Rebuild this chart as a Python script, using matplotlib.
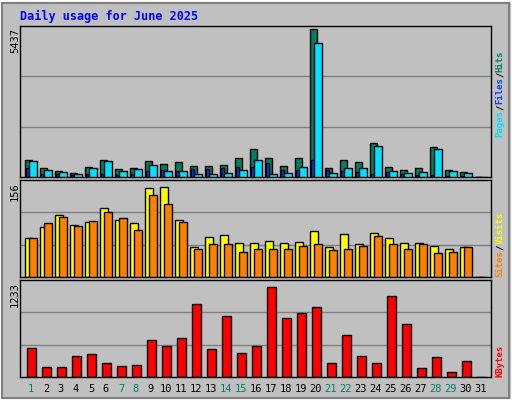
import matplotlib
matplotlib.use("Agg")
import matplotlib.pyplot as plt
from matplotlib.patches import Rectangle

days = list(range(1, 32))
hits = [637,343,233,159,380,637,306,343,600,490,563,417,417,453,710,1041,710,417,710,5437,343,637,563,1262,380,270,343,1115,270,196,0]
files = [343,122,122,86,122,122,86,122,233,270,233,306,306,343,380,380,527,270,270,637,270,233,196,122,196,122,86,86,37,37,0]
pages = [600,270,196,122,343,600,233,306,453,233,233,122,122,159,270,637,122,159,380,4922,159,343,343,1156,233,159,196,1041,233,159,0]
visits = [65,83,103,86,91,115,95,89,147,149,95,50,66,70,57,57,60,57,58,76,49,71,54,73,65,57,57,52,46,49,0]
sites = [65,89,100,84,92,107,98,78,136,121,91,46,55,55,41,46,46,46,52,55,44,47,52,68,55,47,55,39,41,49,0]
kbytes = [381,127,127,280,305,178,140,153,483,407,508,953,368,801,318,407,1182,775,839,915,178,547,280,178,1055,699,114,267,64,203,0]
weekends = [1,7,8,14,15,21,22,28,29]
title = "Daily usage for June 2025"

W, H = 512, 400
fig = plt.figure(figsize=(W/100, H/100), dpi=100)
fig.patch.set_facecolor("#C0C0C0")
fig.add_artist(Rectangle((0, 0), 1, 1, transform=fig.transFigure, fill=False, ec="white", lw=2))
fig.add_artist(Rectangle((2/W, 2/H), 1-5/W, 1-5/H, transform=fig.transFigure, fill=False, ec="#808080", lw=1.5))
mono = "DejaVu Sans Mono"

def fx(p): return p / W
def fy(p): return 1 - p / H

left, right = 20, 491
panels = [(26, 177), (180, 277), (280, 377)]
axes = []
for top, bot in panels:
    ax = fig.add_axes([fx(left), fy(bot), fx(right - left), (bot - top) / H])
    ax.set_facecolor("#C0C0C0")
    ax.set_xlim(-0.33, 31.07)
    ax.set_xticks([])
    ax.set_yticks([])
    for s in ax.spines.values():
        s.set_color("black"); s.set_linewidth(1)
    axes.append(ax)

ec = dict(edgecolor="black", linewidth=1)
x = [d - 1 for d in days]
a1, a2, a3 = axes
a1.set_ylim(0, max(hits) * 1.02)
for g in (1/3, 2/3):
    a1.axhline(max(hits) * g * 1.02, color="#808080", lw=1, zorder=0)
a1.bar(x, hits, width=0.47, align="edge", color="#008060", **ec, zorder=2)
a1.bar([i + 0.1 for i in x], files, width=0.17, align="edge", color="#0040FF", **ec, zorder=3)
a1.bar([i + 0.27 for i in x], pages, width=0.53, align="edge", color="#00E0FF", **ec, zorder=4)

a2.set_ylim(0, 156 * 1.03)
for g in (1/3, 2/3):
    a2.axhline(156 * 1.03 * g, color="#808080", lw=1, zorder=0)
a2.bar(x, visits, width=0.53, align="edge", color="#FFFF00", **ec, zorder=2)
a2.bar([i + 0.27 for i in x], sites, width=0.53, align="edge", color="#FF8000", **ec, zorder=3)

a3.set_ylim(0, 1233 * 1.03)
for g in (1/3, 2/3):
    a3.axhline(1233 * 1.03 * g, color="#808080", lw=1, zorder=0)
a3.bar([i + 0.13 for i in x], kbytes, width=0.6, align="edge", color="#FF0000", **ec, zorder=2)

a3.set_xticks([i + 0.4 for i in x])
a3.set_xticklabels([str(d) for d in days], fontsize=7.5, family=mono)
a3.tick_params(axis="x", length=0, pad=5)
for lab, d in zip(a3.get_xticklabels(), days):
    lab.set_color("#008060" if d in weekends else "black")

fig.text(fx(20), fy(16), title, fontsize=8.5, family=mono, weight="bold", color="#0000FF", va="center")
for (top, bot), lbl in zip(panels, ["5437", "156", "1233"]):
    fig.text(fx(15), fy(top + 2), lbl, rotation=90, fontsize=7.5, family=mono, ha="center", va="top")

FS = 6.5
def right_label(pieces, bottom_px):
    cw = FS * 100 / 72 * 0.602
    pos = 0
    for txt, col in pieces:
        n = len(txt)
        center = bottom_px - (pos + n / 2) * cw
        fig.text(fx(500), fy(center), txt, rotation=90, fontsize=FS,
                 family=mono, weight="bold", color=col, ha="center", va="center")
        pos += n

right_label([("Pages", "#00E0FF"), ("/", "black"), ("Files", "#0040FF"), ("/", "black"), ("Hits", "#008060")], 137)
right_label([("Sites", "#FF8000"), ("/", "black"), ("Visits", "#FFFF00")], 277)
right_label([("KBytes", "#FF0000")], 377)

fig.savefig("out.png", dpi=100, facecolor=fig.get_facecolor())
